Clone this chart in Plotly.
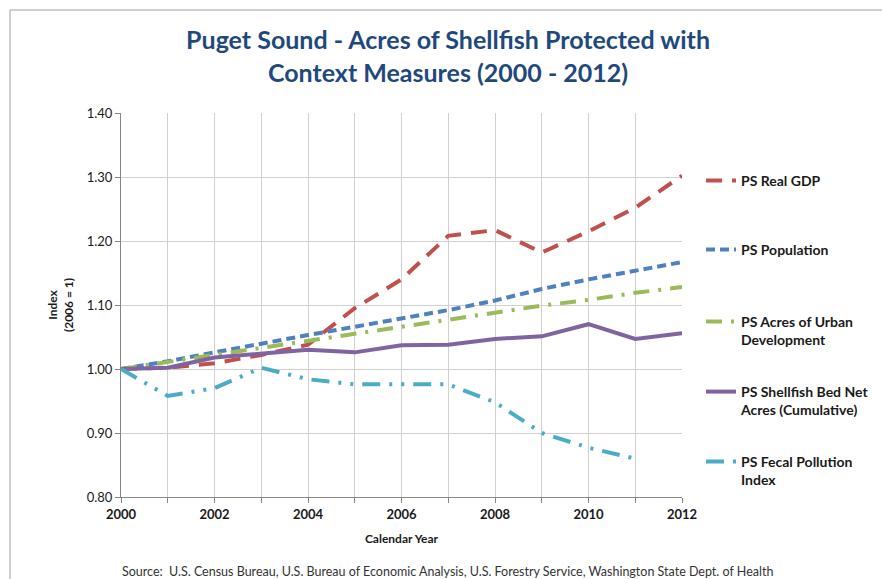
import plotly.graph_objects as go

years = list(range(2000, 2013))
real_gdp = [1.000, 1.002, 1.009, 1.022, 1.038, 1.095, 1.140, 1.208, 1.217, 1.182, 1.215, 1.252, 1.302]
population = [1.000, 1.012, 1.026, 1.040, 1.053, 1.066, 1.079, 1.092, 1.107, 1.125, 1.140, 1.154, 1.167]
urban = [1.000, 1.011, 1.022, 1.033, 1.045, 1.056, 1.067, 1.078, 1.089, 1.099, 1.108, 1.119, 1.128]
shellfish = [1.000, 1.002, 1.018, 1.024, 1.030, 1.026, 1.037, 1.038, 1.047, 1.051, 1.070, 1.047, 1.056]
fecal = [1.000, 0.958, 0.970, 1.002, 0.984, 0.976, 0.976, 0.976, 0.948, 0.900, 0.877, 0.860, None]

series_names = ["PS Real GDP", "PS Population", "PS Acres of Urban<br>Development",
                "PS Shellfish Bed Net<br>Acres (Cumulative)", "PS Fecal Pollution<br>Index"]
series_values = [real_gdp, population, urban, shellfish, fecal]
colors = ["#C0504D", "#4F81BD", "#9BBB59", "#8064A2", "#4BACC6"]
dashes = ["16px,10px", "9px,5px", "16px,9px,3px,9px", "solid", "18px,9px,3px,9px,3px,9px"]
legend_ids = ["legend", "legend2", "legend3", "legend4", "legend5"]

W, H = 882, 579
L, R, T, B = 121, 200, 113, 82
PW, PH = W - L - R, H - T - B

def px_x(px):
    return (px - L) / PW

def px_y(py):
    return (H - B - py) / PH

fig = go.Figure()
for name, vals, c, d, lg in zip(series_names, series_values, colors, dashes, legend_ids):
    fig.add_trace(go.Scatter(x=years, y=vals, mode="lines", name=name,
                             line=dict(color=c, width=4, dash=d),
                             legend=lg, connectgaps=False))

legend_tops = [165, 234, 306, 376, 446]
legend_font = dict(family="Lato", size=14, color="#1a1a1a", weight="bold")
leg_common = dict(xref="paper", yref="paper", xanchor="left", yanchor="top",
                  bgcolor="rgba(0,0,0,0)", font=legend_font, valign="top",
                  tracegroupgap=0)
layout_legends = {}
for lg, top in zip(legend_ids, legend_tops):
    layout_legends[lg] = dict(x=px_x(701), y=px_y(top), **leg_common)

fig.update_layout(
    width=W, height=H,
    margin=dict(l=L, r=R, t=T, b=B, autoexpand=False),
    paper_bgcolor="white", plot_bgcolor="white",
    showlegend=True,
    title=dict(text="Puget Sound - Acres of Shellfish Protected with<br>Context Measures (2000 - 2012)",
               x=0.508, xanchor="center", y=1 - 49 / H, yanchor="middle",
               font=dict(family="Lato", size=25, color="#1F497D", weight="bold")),
    xaxis=dict(range=[2000, 2012], tickmode="array", tickvals=list(range(2000, 2013, 2)),
               showgrid=True, gridcolor="#D0D0D0", gridwidth=1,
               minor=dict(tickmode="array", tickvals=list(range(2000, 2013)), showgrid=True,
                          gridcolor="#D0D0D0", ticks="outside", ticklen=5, tickcolor="#868686"),
               ticks="outside", ticklen=5, tickcolor="#868686",
               showline=True, linecolor="#868686", linewidth=1, zeroline=False,
               tickfont=dict(family="Lato", size=13, color="#1a1a1a", weight="bold"),
               title=dict(text="Calendar Year", standoff=14,
                          font=dict(family="Lato", size=12, color="#1a1a1a", weight="bold"))),
    yaxis=dict(range=[0.80, 1.40], tickmode="array",
               tickvals=[0.8, 0.9, 1.0, 1.1, 1.2, 1.3, 1.4], tickformat=".2f",
               showgrid=True, gridcolor="#D0D0D0", gridwidth=1,
               ticks="outside", ticklen=5, tickcolor="#868686",
               showline=True, linecolor="#868686", linewidth=1, zeroline=False,
               tickfont=dict(family="Lato", size=13, color="#1a1a1a"),
               title=dict(text="Index<br>(2006 = 1)", standoff=10,
                          font=dict(family="Lato", size=12, color="#1a1a1a", weight="bold"))),
    annotations=[dict(text="Source:  U.S. Census Bureau, U.S. Bureau of Economic Analysis, U.S. Forestry Service, Washington State Dept. of Health",
                      xref="paper", yref="paper", x=px_x(447), y=px_y(571),
                      xanchor="center", yanchor="middle", showarrow=False,
                      font=dict(family="Lato", size=12.5, color="#333333"))],
    shapes=[dict(type="line", xref="paper", yref="paper", x0=px_x(10), x1=px_x(900),
                 y0=px_y(10), y1=px_y(10), line=dict(color="#A0A0A0", width=1)),
            dict(type="line", xref="paper", yref="paper", x0=px_x(10), x1=px_x(10),
                 y0=px_y(10), y1=px_y(600), line=dict(color="#A0A0A0", width=1))],
    **layout_legends,
)

fig.write_html("out.html")
